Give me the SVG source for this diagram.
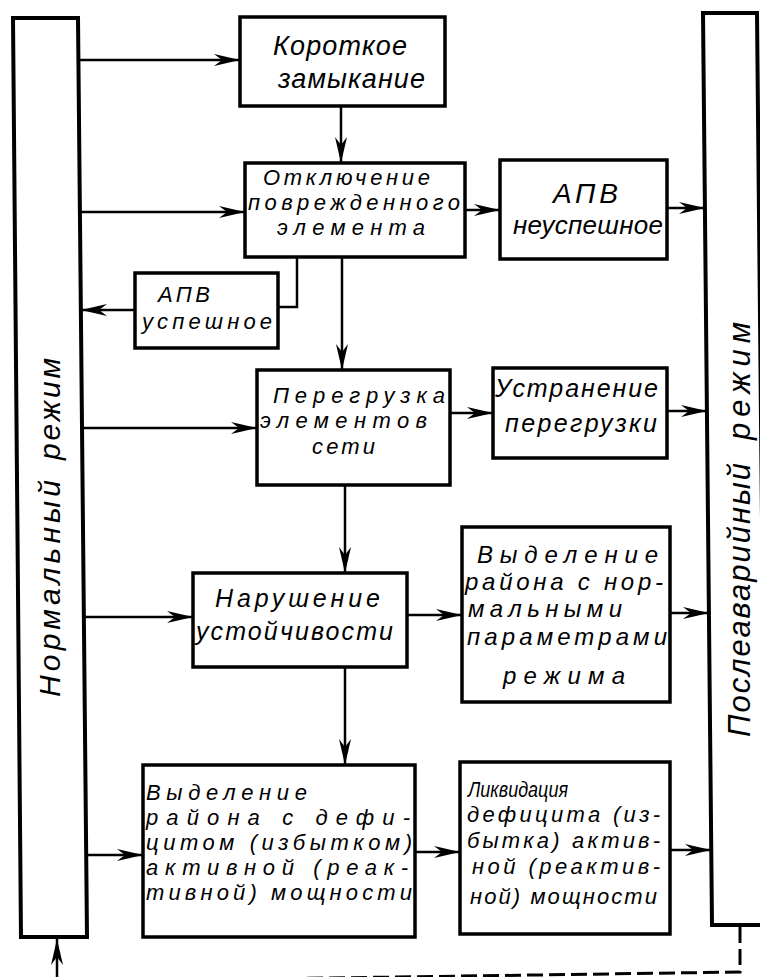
<svg xmlns="http://www.w3.org/2000/svg" width="760" height="977" viewBox="0 0 760 977">
<defs>
<style>
.box{fill:#fff;stroke:#000;stroke-width:3.5}
.bar{fill:#fff;stroke:#000;stroke-width:4}
.conn{stroke:#000;stroke-width:2.5;fill:none}
.dash{stroke:#000;stroke-width:3;fill:none;stroke-dasharray:16 6}
.t{font-family:"Liberation Sans",Arial,sans-serif;font-style:italic;fill:#000}
</style>
<marker id="ah" markerUnits="userSpaceOnUse" markerWidth="26" markerHeight="12" refX="26" refY="6" orient="auto" viewBox="0 0 26 12"><path d="M0,0 L26,6 L0,12 L8,6 Z" fill="#000"/></marker>
</defs>
<rect width="760" height="977" fill="#fff"/>

<g id="normal">
<polygon class="bar" points="13,18 78,18 87,937 21,937"/>
<text class="t" font-size="30" transform="translate(60,697) rotate(-90)" textLength="217" lengthAdjust="spacing">Нормальный</text>
<text class="t" font-size="30" transform="translate(60,460) rotate(-90)" textLength="102" lengthAdjust="spacing">режим</text>
</g>

<g id="postfault">
<polygon class="bar" points="703,13 757,13 766,925 712,925"/>
<text class="t" font-size="31" transform="translate(750,737) rotate(-90)" textLength="274" lengthAdjust="spacing">Послеаварийный</text>
<text class="t" font-size="31" transform="translate(750,440) rotate(-90)" textLength="118" lengthAdjust="spacing">режим</text>
</g>

<g id="kz">
<rect class="box" x="240" y="17" width="205" height="89"/>
<text class="t" font-size="27" x="273" y="55" textLength="134" lengthAdjust="spacing">Короткое</text>
<text class="t" font-size="27" x="278" y="88" textLength="147" lengthAdjust="spacing">замыкание</text>
</g>

<g id="otkl">
<rect class="box" x="245" y="163" width="220" height="94"/>
<text class="t" font-size="22" x="263" y="185" textLength="167" lengthAdjust="spacing">Отключение</text>
<text class="t" font-size="22" x="248" y="209.5" textLength="212" lengthAdjust="spacing">поврежденного</text>
<text class="t" font-size="22" x="277" y="235" textLength="148" lengthAdjust="spacing">элемента</text>
</g>

<g id="apv-neusp">
<rect class="box" x="500" y="160" width="167" height="99"/>
<text class="t" font-size="28" x="553" y="203" textLength="65" lengthAdjust="spacing">АПВ</text>
<text class="t" font-size="26" x="513" y="234" textLength="150" lengthAdjust="spacing">неуспешное</text>
</g>

<g id="apv-usp">
<rect class="box" x="135" y="273" width="143" height="75"/>
<text class="t" font-size="22" x="158" y="302" textLength="52" lengthAdjust="spacing">АПВ</text>
<text class="t" font-size="22" x="142" y="329" textLength="130" lengthAdjust="spacing">успешное</text>
</g>

<g id="peregr">
<rect class="box" x="257" y="370" width="193" height="115"/>
<text class="t" font-size="22" x="273" y="403" textLength="172" lengthAdjust="spacing">Перегрузка</text>
<text class="t" font-size="22" x="260" y="428" textLength="167" lengthAdjust="spacing">элементов</text>
<text class="t" font-size="22" x="312" y="454" textLength="63" lengthAdjust="spacing">сети</text>
</g>

<g id="ustr">
<rect class="box" x="493" y="368" width="174" height="90"/>
<text class="t" font-size="25" x="495" y="397" textLength="163" lengthAdjust="spacing">Устранение</text>
<text class="t" font-size="25" x="505" y="432" textLength="152" lengthAdjust="spacing">перегрузки</text>
</g>

<g id="narush">
<rect class="box" x="193" y="573" width="214" height="94"/>
<text class="t" font-size="25" x="215" y="607" textLength="165" lengthAdjust="spacing">Нарушение</text>
<text class="t" font-size="25" x="196" y="640" textLength="197" lengthAdjust="spacing">устойчивости</text>
</g>

<g id="vydel-norm">
<rect class="box" x="462" y="527" width="208" height="175"/>
<text class="t" font-size="24" x="477" y="563" textLength="181" lengthAdjust="spacing">Выделение</text>
<text class="t" font-size="24" x="465" y="590" textLength="198" lengthAdjust="spacing">района с нор-</text>
<text class="t" font-size="24" x="468" y="617" textLength="154" lengthAdjust="spacing">мальными</text>
<text class="t" font-size="24" x="467" y="645" textLength="200" lengthAdjust="spacing">параметрами</text>
<text class="t" font-size="24" x="503" y="684" textLength="122" lengthAdjust="spacing">режима</text>
</g>

<g id="vydel-def">
<rect class="box" x="143" y="765" width="272" height="172"/>
<text class="t" font-size="22" x="146" y="800" textLength="161" lengthAdjust="spacing">Выделение</text>
<text class="t" font-size="22" x="146" y="825" textLength="264" lengthAdjust="spacing">района с дефи-</text>
<text class="t" font-size="22" x="146" y="850" textLength="266" lengthAdjust="spacing">цитом (избытком)</text>
<text class="t" font-size="22" x="146" y="875" textLength="262" lengthAdjust="spacing">активной (реак-</text>
<text class="t" font-size="22" x="146" y="900" textLength="266" lengthAdjust="spacing">тивной) мощности</text>
</g>

<g id="likv">
<rect class="box" x="460" y="762" width="210" height="172"/>
<text class="t" font-size="22" x="468" y="797" textLength="100" lengthAdjust="spacingAndGlyphs">Ликвидация</text>
<text class="t" font-size="22" x="467" y="822" textLength="193" lengthAdjust="spacing">дефицита (из-</text>
<text class="t" font-size="22" x="467" y="848" textLength="193" lengthAdjust="spacing">бытка) актив-</text>
<text class="t" font-size="22" x="472" y="874" textLength="188" lengthAdjust="spacing">ной (реактив-</text>
<text class="t" font-size="22" x="470" y="904" textLength="187" lengthAdjust="spacing">ной) мощности</text>
</g>

<g id="connectors">
<line class="conn" x1="79" y1="60" x2="240" y2="60" marker-end="url(#ah)"/>
<line class="conn" x1="341" y1="106" x2="341" y2="163" marker-end="url(#ah)"/>
<line class="conn" x1="80" y1="212" x2="245" y2="212" marker-end="url(#ah)"/>
<line class="conn" x1="465" y1="210" x2="500" y2="210" marker-end="url(#ah)"/>
<line class="conn" x1="667" y1="208" x2="705" y2="208" marker-end="url(#ah)"/>
<polyline class="conn" points="297,257 297,307 278,307"/>
<line class="conn" x1="135" y1="310" x2="81" y2="310" marker-end="url(#ah)"/>
<line class="conn" x1="342" y1="257" x2="342" y2="370" marker-end="url(#ah)"/>
<line class="conn" x1="82" y1="428" x2="257" y2="428" marker-end="url(#ah)"/>
<line class="conn" x1="450" y1="413" x2="493" y2="413" marker-end="url(#ah)"/>
<line class="conn" x1="667" y1="411" x2="707" y2="411" marker-end="url(#ah)"/>
<line class="conn" x1="345" y1="485" x2="345" y2="573" marker-end="url(#ah)"/>
<line class="conn" x1="84" y1="617" x2="193" y2="617" marker-end="url(#ah)"/>
<line class="conn" x1="407" y1="615" x2="462" y2="615" marker-end="url(#ah)"/>
<line class="conn" x1="670" y1="613" x2="709" y2="613" marker-end="url(#ah)"/>
<line class="conn" x1="345" y1="667" x2="345" y2="765" marker-end="url(#ah)"/>
<line class="conn" x1="86" y1="855" x2="143" y2="855" marker-end="url(#ah)"/>
<line class="conn" x1="415" y1="852" x2="460" y2="852" marker-end="url(#ah)"/>
<line class="conn" x1="670" y1="850" x2="711" y2="850" marker-end="url(#ah)"/>
<path class="dash" d="M740,927 V972 L57,982"/>
<line class="conn" x1="57" y1="977" x2="57" y2="939" marker-end="url(#ah)"/>
</g>
</svg>
